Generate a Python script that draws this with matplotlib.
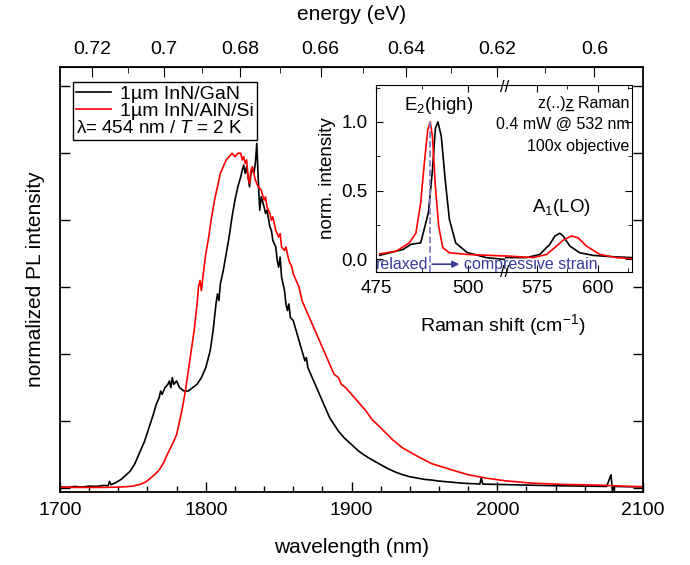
import matplotlib
matplotlib.use("Agg")
import matplotlib.pyplot as plt
from matplotlib.ticker import MultipleLocator, FixedLocator, FixedFormatter, FormatStrFormatter
from matplotlib.lines import Line2D
from matplotlib.transforms import IdentityTransform
from matplotlib.font_manager import FontProperties

plt.rcParams['font.family'] = ['Liberation Sans', 'DejaVu Sans']
plt.rcParams['mathtext.fontset'] = 'custom'
plt.rcParams['mathtext.rm'] = 'Liberation Sans'
plt.rcParams['mathtext.it'] = 'Liberation Sans:italic'

# PL spectra (wavelength nm, normalized intensity)
wl_gan = [1700, 1705, 1710, 1715, 1720, 1725, 1730, 1733, 1734, 1735, 1738, 1742, 1745,
          1748, 1751, 1754, 1756, 1758, 1761, 1764, 1766, 1768, 1769, 1770, 1772, 1774,
          1775, 1776, 1777, 1778, 1780, 1782, 1785, 1788, 1791, 1794, 1797, 1800, 1803,
          1805, 1807, 1808, 1809, 1810, 1812, 1814, 1816, 1818, 1820, 1822, 1824, 1825,
          1826, 1827, 1828, 1829, 1830, 1831, 1832, 1833, 1834, 1835, 1836, 1837, 1838,
          1840, 1841, 1842, 1844, 1845, 1846, 1848, 1849, 1850, 1851, 1852, 1854, 1855,
          1856, 1857, 1858, 1860, 1862, 1864, 1866, 1868, 1869, 1870, 1872, 1874, 1876,
          1878, 1880, 1882, 1885, 1888, 1891, 1895, 1900, 1905, 1910, 1915, 1920, 1925,
          1930, 1935, 1940, 1945, 1950, 1955, 1960, 1965, 1970, 1978, 1985, 1988, 1989,
          1990, 2000, 2010, 2023, 2040, 2060, 2075, 2078, 2079, 2080, 2090, 2100]
pl_gan = [0.004, 0.002, 0.005, 0.003, 0.006, 0.005, 0.008, 0.007, 0.02, 0.01, 0.016, 0.026,
          0.038, 0.05, 0.07, 0.10, 0.12, 0.14, 0.18, 0.22, 0.25, 0.27, 0.29, 0.28, 0.30,
          0.31, 0.32, 0.30, 0.33, 0.31, 0.32, 0.30, 0.29, 0.29, 0.30, 0.31, 0.33, 0.36,
          0.41, 0.47, 0.55, 0.58, 0.56, 0.61, 0.65, 0.70, 0.75, 0.81, 0.86, 0.90, 0.93,
          0.95, 0.965, 0.94, 0.96, 0.93, 0.90, 0.94, 0.955, 0.94, 0.97, 1.03, 0.92, 0.83,
          0.87, 0.84, 0.82, 0.83, 0.78, 0.77, 0.74, 0.72, 0.68, 0.66, 0.69, 0.63, 0.59,
          0.55, 0.53, 0.55, 0.51, 0.50, 0.47, 0.44, 0.41, 0.38, 0.39, 0.36, 0.34, 0.32,
          0.30, 0.28, 0.26, 0.24, 0.21, 0.19, 0.17, 0.15, 0.13, 0.11, 0.095, 0.082, 0.07,
          0.058, 0.048, 0.04, 0.034, 0.03, 0.026, 0.024, 0.021, 0.019, 0.017, 0.014, 0.013,
          0.012, 0.03, 0.012, 0.011, 0.010, 0.009, 0.007, 0.006, 0.005, 0.04, -0.01, 0.005,
          0.004, 0.004]

wl_si = [1700, 1710, 1720, 1730, 1740, 1745, 1750, 1755, 1759, 1763, 1766, 1768, 1771,
         1773, 1775, 1778, 1780, 1782, 1784, 1786, 1788, 1790, 1792, 1794, 1795, 1796,
         1797, 1798, 1800, 1802, 1804, 1806, 1808, 1810, 1812, 1814, 1816, 1818, 1820,
         1822, 1824, 1825, 1826, 1827, 1828, 1829, 1830, 1831, 1832, 1833, 1834, 1836,
         1838, 1840, 1841, 1842, 1844, 1845, 1846, 1848, 1850, 1851, 1852, 1854, 1855,
         1857, 1859, 1860, 1862, 1864, 1866, 1868, 1870, 1873, 1876, 1879, 1882, 1885,
         1888, 1891, 1893, 1896, 1900, 1905, 1910, 1914, 1920, 1928, 1935, 1946, 1955,
         1969, 1980, 1992, 2005, 2023, 2045, 2069, 2085, 2100]
pl_si = [0.003, 0.002, 0.002, 0.002, 0.003, 0.004, 0.006, 0.011, 0.019, 0.033, 0.045,
         0.054, 0.075, 0.095, 0.113, 0.14, 0.16, 0.2, 0.24, 0.29, 0.35, 0.41, 0.47, 0.55,
         0.60, 0.62, 0.59, 0.63, 0.70, 0.75, 0.81, 0.86, 0.90, 0.94, 0.96, 0.98, 0.99, 1.0,
         0.99, 1.0, 1.0, 0.98, 0.99, 0.97, 0.98, 0.93, 0.91, 0.95, 0.96, 0.94, 0.92, 0.90,
         0.89, 0.86, 0.87, 0.84, 0.82, 0.80, 0.81, 0.77, 0.75, 0.76, 0.72, 0.71, 0.72,
         0.68, 0.66, 0.64, 0.62, 0.60, 0.56, 0.54, 0.52, 0.49, 0.46, 0.43, 0.40, 0.37,
         0.34, 0.33, 0.31, 0.30, 0.28, 0.255, 0.23, 0.205, 0.18, 0.145, 0.12, 0.093, 0.073,
         0.054, 0.04, 0.03, 0.022, 0.015, 0.011, 0.009, 0.006, 0.004]

# Raman spectra (inset)
rs_gan = [476, 482.3, 484.5, 487.1, 489.2, 490.3, 491.1, 491.8, 492.7, 493.75, 494.9,
          496.6, 499.7, 504.9, 509.6, 562.6, 570.8, 576.2, 580.3, 582.4, 584.4, 585.8,
          588.5, 592.6, 598.1, 606.3, 614.2]
ram_gan = [0.03, 0.072, 0.11, 0.12, 0.34, 0.65, 0.955, 1.0, 0.894, 0.58, 0.29, 0.12,
           0.05, 0.013, 0.0, 0.013, 0.013, 0.036, 0.109, 0.17, 0.19, 0.17, 0.097, 0.048,
           0.029, 0.019, 0.013]
rs_si = [476, 480.5, 484, 485.8, 487.1, 488.1, 489.0, 489.7, 490.3, 491.1, 492.0, 493.1,
         494.9, 499.7, 509.6, 562.6, 573.5, 579, 583.1, 585.8, 589.2, 591.9, 595.3, 600.8,
         607.7, 614.2]
ram_si = [0.04, 0.06, 0.12, 0.19, 0.41, 0.70, 0.94, 1.0, 0.894, 0.53, 0.24, 0.085, 0.048,
          0.036, 0.025, 0.025, 0.013, 0.036, 0.097, 0.14, 0.17, 0.157, 0.097, 0.036, 0.013,
          0.005]
relaxed_e2 = 489.5

energy_ticks = [0.72, 0.70, 0.68, 0.66, 0.64, 0.62, 0.60]
energy_labels = ['0.72', '0.7', '0.68', '0.66', '0.64', '0.62', '0.6']
setup_lines = ['z(..)z Raman', '0.4 mW @ 532 nm', '100x objective']

fig = plt.figure(figsize=(6.9, 5.65), dpi=100)
ax = fig.add_axes([0.087, 0.129, 0.845, 0.752])

ax.plot(wl_gan, pl_gan, color='black', lw=1.2, label='1µm InN/GaN')
ax.plot(wl_si, pl_si, color='red', lw=1.2, label='1µm InN/AlN/Si')
ax.set_xlim(1700, 2100)
ax.set_ylim(-0.012, 1.257)
ax.xaxis.set_major_locator(MultipleLocator(100))
ax.xaxis.set_minor_locator(MultipleLocator(20))
ax.yaxis.set_major_locator(MultipleLocator(0.2))
ax.set_yticklabels([])
ax.tick_params(which='both', direction='in', top=False, right=True, labelsize=14, pad=7)
ax.tick_params(which='major', length=7, width=1)
ax.tick_params(which='minor', length=4, width=1)
for s in ax.spines.values():
    s.set_linewidth(1.3)
ax.set_xlabel('wavelength (nm)', fontsize=15, labelpad=14)
ax.set_ylabel('normalized PL intensity', fontsize=15, labelpad=4)

# top energy axis
secax = ax.secondary_xaxis('top', functions=(lambda x: 1240.0 / x, lambda e: 1240.0 / e))
secax.xaxis.set_major_locator(FixedLocator(energy_ticks))
secax.xaxis.set_major_formatter(FixedFormatter(energy_labels))
secax.xaxis.set_minor_locator(FixedLocator([0.73, 0.71, 0.69, 0.67, 0.65, 0.63, 0.61, 0.59]))
secax.tick_params(which='both', direction='in', labelsize=14, pad=7)
secax.tick_params(which='major', length=7)
secax.tick_params(which='minor', length=4)
secax.set_xlabel('energy (eV)', fontsize=15, labelpad=15)

# legend box with the excitation line beneath the entries
handles = [Line2D([], [], color='black', lw=1.2), Line2D([], [], color='red', lw=1.2)]
leg = ax.legend(handles, ['1µm InN/GaN', '1µm InN/AlN/Si'],
                title='λ= 454 nm / $T$ = 2 K', title_fontsize=13.5, alignment='left',
                loc='upper left', bbox_to_anchor=(0.022, 0.965), fontsize=14,
                frameon=True, fancybox=False, edgecolor='black', framealpha=1,
                handlelength=1.8, handletextpad=0.5, borderpad=0.15, labelspacing=0.0,
                borderaxespad=0.0)
leg.get_frame().set_linewidth(1.0)
leg._legend_box._children.reverse()

# inset with broken Raman axis
ax_l = fig.add_axes([0.545, 0.519, 0.187, 0.331])
ax_r = fig.add_axes([0.732, 0.519, 0.184, 0.331])
for a, lim in ((ax_l, (475, 510)), (ax_r, (562, 614))):
    a.plot(rs_gan, ram_gan, color='black', lw=1.2)
    a.plot(rs_si, ram_si, color='red', lw=1.2)
    a.set_xlim(*lim)
    a.set_ylim(-0.09, 1.27)
    a.set_facecolor('none')
    a.tick_params(which='both', direction='in', top=True, labelsize=13.5, pad=6)
    a.tick_params(which='major', length=5)
    a.tick_params(which='minor', length=3)
    a.yaxis.set_major_locator(MultipleLocator(0.5))
    a.yaxis.set_minor_locator(MultipleLocator(0.25))
    a.xaxis.set_major_locator(MultipleLocator(25))
    a.xaxis.set_minor_locator(MultipleLocator(12.5))

ax_l.spines['right'].set_visible(False)
ax_r.spines['left'].set_visible(False)
ax_l.tick_params(which='both', right=False)
ax_r.tick_params(which='both', left=False, right=True, labelleft=False)
ax_l.yaxis.set_major_formatter(FormatStrFormatter('%.1f'))
ax_l.set_ylabel('norm. intensity', fontsize=13.5, labelpad=4)
for yy in (-0.005, 0.985):
    ax_l.text(1.0, yy, '//', transform=ax_l.transAxes, ha='center', va='center',
              fontsize=12, clip_on=False, zorder=5)

ax_l.vlines(relaxed_e2, -0.09, 1.0, colors='#8080c8', linestyles='--', lw=1.3)
ax_l.annotate('', xy=(497.6, -0.035), xytext=(490.2, -0.035),
              arrowprops=dict(arrowstyle='-|>', color='#3a3a9a', lw=1.2,
                              mutation_scale=10, shrinkA=0, shrinkB=0))
ax_l.text(489.2, -0.035, 'relaxed', color='#3a3a9a', fontsize=11.5,
          ha='right', va='center')
ax_l.text(498.8, -0.035, 'compressive strain', color='#3a3a9a', fontsize=11.5,
          ha='left', va='center', clip_on=False)
ax_l.text(492.0, 1.12, 'E$_2$(high)', fontsize=13.5, ha='center', va='center')
ax_r.text(585.0, 0.38, 'A$_1$(LO)', fontsize=13.5, ha='center', va='center')

# setup text; the second z carries an underline
for i, line in enumerate(setup_lines):
    ax_r.text(0.98, 0.877 - i * 0.115, line, transform=ax_r.transAxes, ha='right',
              va='baseline', fontsize=11.5)
renderer = fig.canvas.get_renderer()
fp = FontProperties(family=['Liberation Sans', 'DejaVu Sans'], size=11.5)
w_a = renderer.get_text_width_height_descent('z Raman', fp, ismath=False)[0]
w_b = renderer.get_text_width_height_descent(' Raman', fp, ismath=False)[0]
x_end, base_y = ax_r.transAxes.transform((0.98, 0.877))
fig.add_artist(Line2D([x_end - w_a, x_end - w_b - 0.5], [base_y - 2.5, base_y - 2.5],
                      transform=IdentityTransform(), color='black', lw=1.0))

fig.text(0.728, 0.425, 'Raman shift (cm$^{-1}$)', fontsize=14, ha='center', va='center')

fig.savefig('out.png', dpi=100)
